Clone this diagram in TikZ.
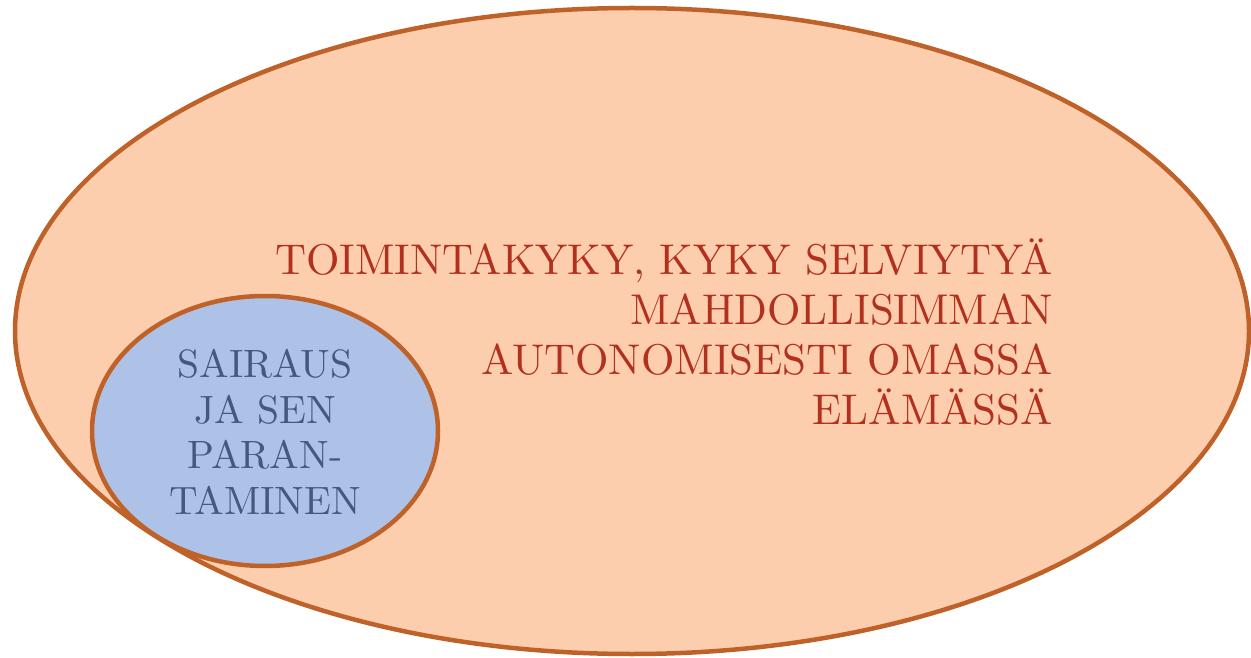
\documentclass[tikz,border=0pt]{standalone}
\usepackage{fontspec}
\setmainfont{lmroman10-regular.otf}
\definecolor{peach}{HTML}{FCCEAE}
\definecolor{rim}{HTML}{BF622A}
\definecolor{redtext}{HTML}{B2301E}
\definecolor{bluefill}{HTML}{AEC2E8}
\definecolor{bluetext}{HTML}{445880}
\begin{document}
\begin{tikzpicture}[x=1pt,y=1pt,
  outer/.style={draw=rim,fill=peach,line width=4.5pt},
  inner/.style={draw=rim,fill=bluefill,line width=4.5pt},
  bigtext/.style={text=redtext,align=right,inner sep=0pt,font=\fontsize{43}{50}\selectfont},
  smalltext/.style={text=bluetext,align=center,inner sep=0pt,font=\fontsize{39.5}{45.5}\selectfont}]
\useasboundingbox (0,0) rectangle (1251,657);
\draw[outer] (632,326) ellipse [x radius=617, y radius=323];
\draw[inner] (265,226) ellipse [x radius=173, y radius=135];
\node[bigtext,anchor=east] (main) at (1053,325) {TOIMINTAKYKY, KYKY SELVIYTYÄ\\MAHDOLLISIMMAN\\AUTONOMISESTI OMASSA\\ELÄMÄSSÄ};
\node[smalltext] (sick) at (265,225) {SAIRAUS\\JA SEN\\PARAN-\\TAMINEN};
\end{tikzpicture}
\end{document}
